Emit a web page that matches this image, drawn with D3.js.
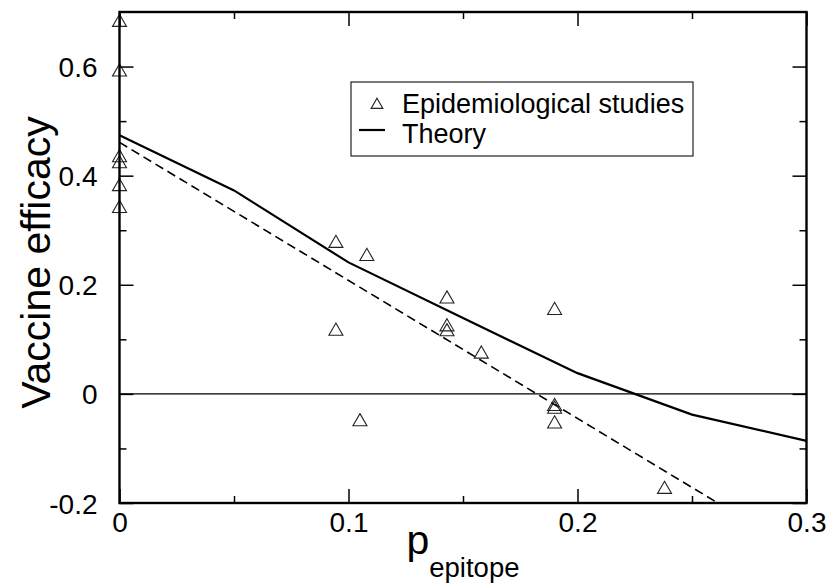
<!DOCTYPE html>
<html><head><meta charset="utf-8">
<script src="https://cdn.jsdelivr.net/npm/d3@7"></script>
<style>body{margin:0;background:#fff}svg{display:block}text{font-family:"Liberation Sans",Arial,sans-serif;fill:#000}</style>
</head><body><svg id="c" width="833" height="588"></svg>
<script>
// Epidemiological studies (triangles)
const studyX = [0, 0, 0, 0, 0, 0, 0.0945, 0.108, 0.0945, 0.105, 0.143, 0.143, 0.143, 0.158, 0.19, 0.19, 0.19, 0.19, 0.238];
const studyY = [0.681, 0.590, 0.433, 0.422, 0.380, 0.340, 0.276, 0.252, 0.115, -0.051, 0.174, 0.123, 0.114, 0.073, 0.153, -0.023, -0.028, -0.055, -0.175];
// Theory curve
const theoryX = [0, 0.05, 0.1, 0.15, 0.2, 0.25, 0.3];
const theoryY = [0.474, 0.373, 0.241, 0.139, 0.038, -0.038, -0.086];
// Linear fit (dashed)
const fitX = [0, 0.3];
const fitY = [0.461, -0.298];
// Ticks
const xTicks = [0, 0.1, 0.2, 0.3];
const xTickLabels = ["0", "0.1", "0.2", "0.3"];
const xMinor = [0.05, 0.15, 0.25];
const yTicks = [-0.2, 0, 0.2, 0.4, 0.6];
const yTickLabels = ["-0.2", "0", "0.2", "0.4", "0.6"];
const yMinor = [-0.1, 0.1, 0.3, 0.5];
const legendLabels = ["Epidemiological studies", "Theory"];

const W = 833, H = 588;
const m = {left: 119.5, right: 26.5, top: 12, bottom: 85};
const svg = d3.select("#c");
const x = d3.scaleLinear().domain([0, 0.3]).range([m.left, W - m.right]);
const y = d3.scaleLinear().domain([-0.2, 0.7]).range([H - m.bottom, m.top]);

svg.append("defs").append("clipPath").attr("id", "clip")
  .append("rect").attr("x", m.left).attr("y", m.top)
  .attr("width", x.range()[1] - m.left).attr("height", y.range()[0] - m.top);

const plot = svg.append("g").attr("clip-path", "url(#clip)");

// zero line
plot.append("line").attr("x1", x(0)).attr("x2", x(0.3)).attr("y1", y(0)).attr("y2", y(0))
  .attr("stroke", "#000").attr("stroke-width", 1.2);

// dashed fit
const fitData = fitX.map((v, i) => [v, fitY[i]]);
plot.append("path").datum(fitData)
  .attr("d", d3.line().x(d => x(d[0])).y(d => y(d[1])))
  .attr("fill", "none").attr("stroke", "#000").attr("stroke-width", 1.6)
  .attr("stroke-dasharray", "9,5");

// theory
const thData = theoryX.map((v, i) => [v, theoryY[i]]);
plot.append("path").datum(thData)
  .attr("d", d3.line().x(d => x(d[0])).y(d => y(d[1])))
  .attr("fill", "none").attr("stroke", "#000").attr("stroke-width", 2.2);

// triangles
const tri = d3.symbol(d3.symbolTriangle, 85);
const stData = studyX.map((v, i) => [v, studyY[i]]);
svg.append("g").selectAll("path").data(stData).join("path")
  .attr("d", tri)
  .attr("transform", d => `translate(${x(d[0])},${y(d[1])})`)
  .attr("fill", "none").attr("stroke", "#222").attr("stroke-width", 1.1);

// axes frame & ticks
const fmtX = (d) => xTickLabels[xTicks.indexOf(d)];
const fmtY = (d) => yTickLabels[yTicks.indexOf(d)];
function styleAxis(g) {
  g.select(".domain").remove();
  g.selectAll(".tick line").attr("stroke", "#000").attr("stroke-width", 1.5);
  g.selectAll("text").style("font-size", "28px").style("font-family", '"Liberation Sans",Arial,sans-serif');
}
const yb = y.range()[0], yt = m.top, xl = m.left, xr = x.range()[1];
// bottom
svg.append("g").attr("transform", `translate(0,${yb})`)
  .call(d3.axisBottom(x).tickValues(xTicks).tickSize(-14).tickPadding(29).tickFormat(fmtX))
  .call(styleAxis).call(g => g.selectAll("text").attr("dy", "0"));
svg.append("g").attr("transform", `translate(0,${yb})`)
  .call(d3.axisBottom(x).tickValues(xMinor).tickSize(-7).tickFormat(""))
  .call(styleAxis);
// top
svg.append("g").attr("transform", `translate(0,${yt})`)
  .call(d3.axisTop(x).tickValues(xTicks).tickSize(-14).tickFormat(""))
  .call(styleAxis);
svg.append("g").attr("transform", `translate(0,${yt})`)
  .call(d3.axisTop(x).tickValues(xMinor).tickSize(-7).tickFormat(""))
  .call(styleAxis);
// left
svg.append("g").attr("transform", `translate(${xl},0)`)
  .call(d3.axisLeft(y).tickValues(yTicks).tickSize(-14).tickPadding(22).tickFormat(fmtY))
  .call(styleAxis).call(g => g.selectAll("text").attr("dy", "0.36em"));
svg.append("g").attr("transform", `translate(${xl},0)`)
  .call(d3.axisLeft(y).tickValues(yMinor).tickSize(-7).tickFormat(""))
  .call(styleAxis);
// right
svg.append("g").attr("transform", `translate(${xr},0)`)
  .call(d3.axisRight(y).tickValues(yTicks).tickSize(-14).tickFormat(""))
  .call(styleAxis);
svg.append("g").attr("transform", `translate(${xr},0)`)
  .call(d3.axisRight(y).tickValues(yMinor).tickSize(-7).tickFormat(""))
  .call(styleAxis);

svg.append("rect").attr("x", xl).attr("y", yt).attr("width", xr - xl).attr("height", yb - yt)
  .attr("fill", "none").attr("stroke", "#000").attr("stroke-width", 2.4);

// axis titles
svg.append("text").attr("transform", `translate(50,${(yt + yb) / 2 + 5}) rotate(-90)`)
  .attr("text-anchor", "middle").style("font-size", "41px").text("Vaccine efficacy");
const xt = svg.append("text").attr("x", (xl + xr) / 2).attr("y", 554).attr("text-anchor", "middle");
xt.append("tspan").style("font-size", "41px").text("p");
xt.append("tspan").style("font-size", "27.5px").attr("dy", 23).text("epitope");

// legend
const lg = svg.append("g");
lg.append("rect").attr("x", 351).attr("y", 82).attr("width", 342).attr("height", 74)
  .attr("fill", "#fff").attr("stroke", "#222").attr("stroke-width", 1.2);
lg.append("path").attr("d", d3.symbol(d3.symbolTriangle, 60)).attr("transform", "translate(377,105)")
  .attr("fill", "none").attr("stroke", "#222").attr("stroke-width", 1.1);
lg.append("line").attr("x1", 359).attr("x2", 385).attr("y1", 130).attr("y2", 130)
  .attr("stroke", "#000").attr("stroke-width", 2.2);
lg.selectAll("text").data(legendLabels).join("text")
  .attr("x", 402).attr("y", (d, i) => 113 + i * 30)
  .style("font-size", "27px").text(d => d);
</script>
</body></html>
